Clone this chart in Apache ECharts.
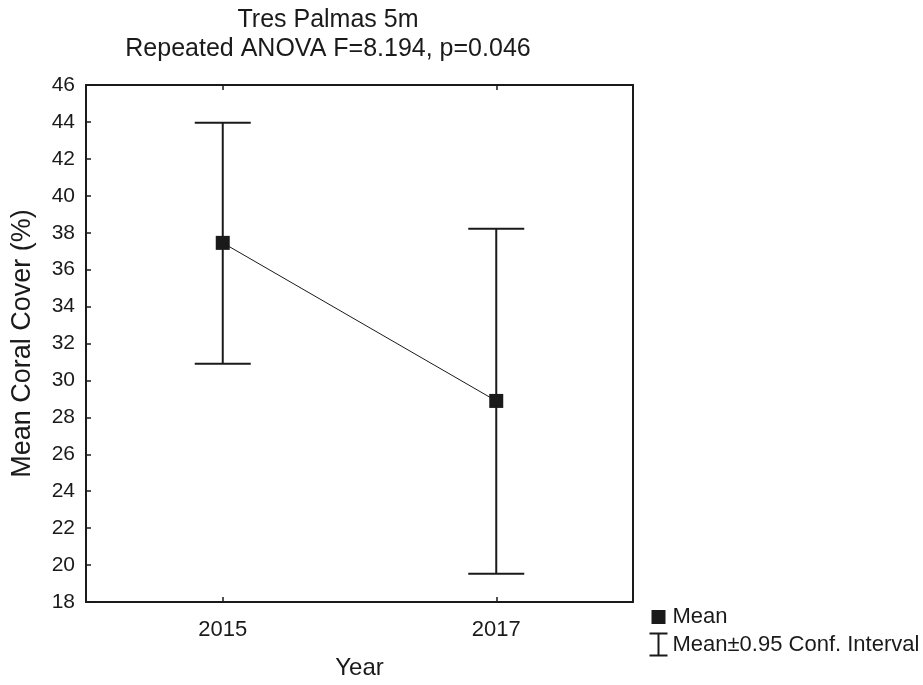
<!DOCTYPE html>
<html>
<head>
<meta charset="utf-8">
<script src="https://cdn.jsdelivr.net/npm/echarts@6/dist/echarts.min.js"></script>
<style>
html,body{margin:0;padding:0;background:#fff;}
#chart{width:923px;height:685px;}
</style>
</head>
<body>
<div id="chart"></div>
<script>
const categories = ['2015', '2017'];
const meanValues = [37.45, 28.89];
const ciLower = [30.91, 19.53];
const ciUpper = [43.96, 38.22];
const yMin = 18, yMax = 46, yStep = 2;
const titleLines = ['Tres Palmas 5m', 'Repeated ANOVA F=8.194, p=0.046'];
const legendLabels = ['Mean', 'Mean\u00b10.95 Conf. Interval'];

const FONT = '"Liberation Sans", Arial, sans-serif';
const INK = '#1a1a1a';

const chart = echarts.init(document.getElementById('chart'), null, {renderer: 'canvas'});

const ciData = categories.map((c, i) => [i, ciLower[i], ciUpper[i]]);

const option = {
  animation: false,
  backgroundColor: '#fff',
  title: {
    text: titleLines.join('\n'),
    left: 323,
    top: 1,
    textAlign: 'center',
    textStyle: {fontFamily: FONT, fontSize: 25, fontWeight: 'normal', color: INK, lineHeight: 29}
  },
  grid: {left: 86, right: 290, top: 85, bottom: 82, containLabel: false},
  legend: {
    orient: 'vertical',
    left: 642,
    top: 600,
    itemWidth: 18,
    itemHeight: 24,
    itemGap: 2,
    textStyle: {fontFamily: FONT, fontSize: 22, color: INK},
    data: [
      {name: legendLabels[0], icon: 'path://M0,0M18,24M2,5H16V19H2Z', itemStyle: {color: INK}},
      {name: legendLabels[1], icon: 'path://M0,1H18M9,1V23M0,23H18', itemStyle: {color: 'none', borderColor: INK, borderWidth: 2}}
    ]
  },
  xAxis: [
    {
      type: 'category',
      data: categories,
      position: 'bottom',
      name: 'Year',
      nameLocation: 'middle',
      nameGap: 54,
      nameTextStyle: {fontFamily: FONT, fontSize: 24, color: INK},
      axisLine: {onZero: false, lineStyle: {color: INK, width: 2}},
      axisTick: {show: true, inside: true, alignWithLabel: true, length: 5, lineStyle: {color: INK, width: 1.5}},
      axisLabel: {fontFamily: FONT, fontSize: 22, color: INK, margin: 17},
      splitLine: {show: false}
    },
    {
      type: 'category',
      data: categories,
      position: 'top',
      axisLine: {onZero: false, lineStyle: {color: INK, width: 2}},
      axisTick: {show: true, inside: true, alignWithLabel: true, length: 5, lineStyle: {color: INK, width: 1.5}},
      axisLabel: {show: false},
      splitLine: {show: false}
    }
  ],
  yAxis: [
    {
      type: 'value',
      min: yMin,
      max: yMax,
      interval: yStep,
      position: 'left',
      name: 'Mean Coral Cover (%)',
      nameLocation: 'middle',
      nameGap: 50,
      nameTextStyle: {fontFamily: FONT, fontSize: 27, color: INK},
      axisLine: {show: true, onZero: false, lineStyle: {color: INK, width: 2}},
      axisTick: {show: true, inside: true, length: 5, lineStyle: {color: INK, width: 1.5}},
      axisLabel: {fontFamily: FONT, fontSize: 21, color: INK, margin: 11},
      splitLine: {show: false}
    },
    {
      type: 'value',
      min: yMin,
      max: yMax,
      interval: yStep,
      position: 'right',
      axisLine: {show: true, onZero: false, lineStyle: {color: INK, width: 2}},
      axisTick: {show: false},
      axisLabel: {show: false},
      splitLine: {show: false}
    }
  ],
  series: [
    {
      name: legendLabels[1],
      type: 'custom',
      xAxisIndex: 0,
      yAxisIndex: 0,
      itemStyle: {color: INK},
      data: ciData,
      renderItem: function (params, api) {
        const x = api.value(0);
        const lo = api.coord([x, api.value(1)]);
        const hi = api.coord([x, api.value(2)]);
        const half = 28;
        const style = {stroke: INK, lineWidth: 2, fill: 'none'};
        return {
          type: 'group',
          children: [
            {type: 'line', shape: {x1: hi[0], y1: hi[1], x2: lo[0], y2: lo[1]}, style: style},
            {type: 'line', shape: {x1: hi[0] - half, y1: hi[1], x2: hi[0] + half, y2: hi[1]}, style: style},
            {type: 'line', shape: {x1: lo[0] - half, y1: lo[1], x2: lo[0] + half, y2: lo[1]}, style: style}
          ]
        };
      },
      z: 2
    },
    {
      name: legendLabels[0],
      type: 'line',
      xAxisIndex: 0,
      yAxisIndex: 0,
      data: meanValues,
      symbol: 'rect',
      symbolSize: 14,
      lineStyle: {color: INK, width: 1},
      itemStyle: {color: INK},
      z: 3
    }
  ]
};

chart.setOption(option);
</script>
</body>
</html>
